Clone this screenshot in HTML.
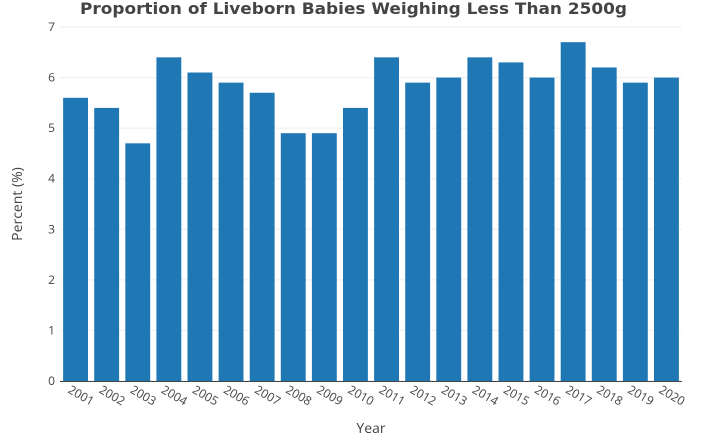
<!DOCTYPE html>
<html><head><meta charset="utf-8"><style>
html,body{margin:0;padding:0;background:#fff;}
svg{display:block;font-family:"Open Sans","Liberation Sans",sans-serif;}
</style></head><body>
<svg id="chart" width="705" height="435">
<text x="80" y="14" font-family="'DejaVu Sans','Liberation Sans',sans-serif" font-size="16" font-weight="bold" fill="#444" textLength="547" lengthAdjust="spacingAndGlyphs">Proportion of Liveborn Babies Weighing Less Than 2500g</text>
<g id="grid"></g><g id="bars"></g><g id="xt"></g><g id="yt"></g>
<line x1="60" y1="381.5" x2="682" y2="381.5" stroke="#444" stroke-width="1"/>
<text x="371" y="433" text-anchor="middle" font-size="14" fill="#444">Year</text>
<text transform="translate(22,204) rotate(-90)" text-anchor="middle" font-size="14" fill="#444">Percent (%)</text>
</svg>
<script>
const years=["2001","2002","2003","2004","2005","2006","2007","2008","2009","2010","2011","2012","2013","2014","2015","2016","2017","2018","2019","2020"];
const values=[5.6,5.4,4.7,6.4,6.1,5.9,5.7,4.9,4.9,5.4,6.4,5.9,6.0,6.4,6.3,6.0,6.7,6.2,5.9,6.0];
const yTicks=[0,1,2,3,4,5,6,7];
const NS="http://www.w3.org/2000/svg";
const L=60,R=682,T=27,B=381,yMax=7;
const y=v=>B-(v/yMax)*(B-T);
const step=(R-L)/years.length;
const x=i=>L+i*step;
function mk(tag,attrs,parent){const e=document.createElementNS(NS,tag);for(const k in attrs)e.setAttribute(k,attrs[k]);document.getElementById(parent).appendChild(e);return e;}
yTicks.forEach(t=>{
  const g=mk("line",{x1:L,x2:R,y1:y(t),y2:y(t),stroke:"#eee","stroke-width":1},"grid");
  
  
  const tx=mk("text",{x:55,y:y(t)+4,"text-anchor":"end","font-size":12,fill:"#444"},"yt");
  tx.textContent=t;
  
  
});
values.forEach((v,i)=>{
  const w=step*0.8;
  const r=mk("rect",{x:x(i)+step*0.1,y:y(v),width:w,height:B-y(v),fill:"#1f77b4"},"bars");
  
  
  const cx=x(i)+step/2;
  const tx=mk("text",{x:cx+4,y:397,"text-anchor":"middle","font-size":12,fill:"#444",transform:`rotate(30 ${cx} 397)`},"xt");
  tx.textContent=years[i];
  
  
});
</script>
</body></html>
